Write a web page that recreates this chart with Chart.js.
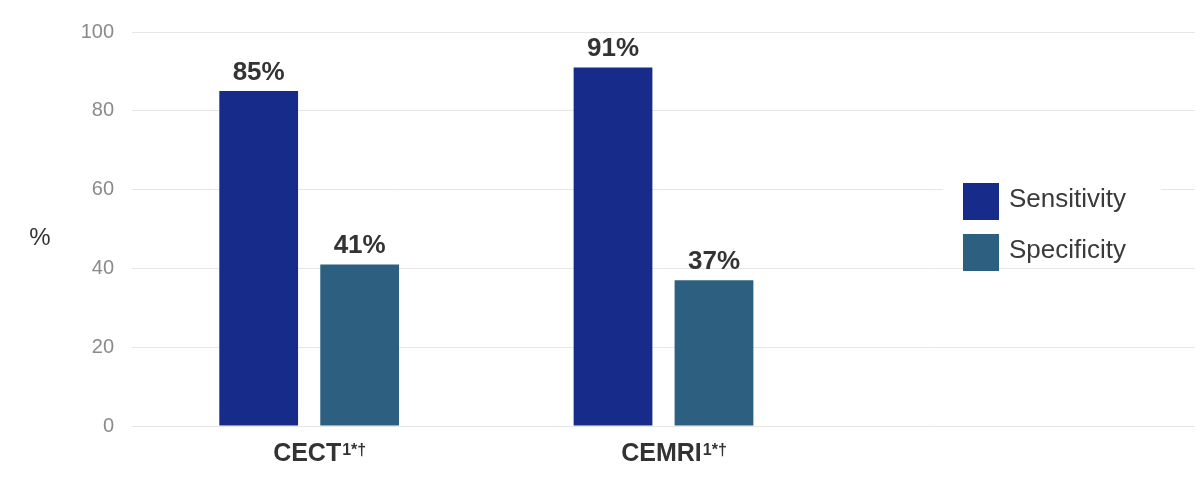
<!DOCTYPE html>
<html>
<head>
<meta charset="utf-8">
<script src="https://cdn.jsdelivr.net/npm/chart.js@4"></script>
<style>
    html, body { margin: 0; padding: 0; background: #ffffff; }
    #wrap { width: 1200px; height: 483px; }
</style>
</head>
<body>
<div id="wrap"><canvas id="chart"></canvas></div>
<script>
// categories (third slot is empty, the legend sits there)
const categories = ['CECT', 'CEMRI', ''];
const categorySup = ['1*\u2020', '1*\u2020', ''];
const sensitivity = [85, 91, null];
const specificity = [41, 37, null];
const yTicks = [0, 20, 40, 60, 80, 100];

const FONT = '"Liberation Sans", Arial, Helvetica, sans-serif';
const TEXT_DARK = '#333333';

// value labels above the bars
const valueLabels = {
    id: 'valueLabels',
    afterDatasetsDraw(chart) {
        const ctx = chart.ctx;
        ctx.save();
        ctx.font = 'bold 26px ' + FONT;
        ctx.fillStyle = TEXT_DARK;
        ctx.textAlign = 'center';
        ctx.textBaseline = 'alphabetic';
        chart.data.datasets.forEach((ds, i) => {
            chart.getDatasetMeta(i).data.forEach((bar, j) => {
                if (ds.data[j] == null) return;
                ctx.fillText(ds.data[j] + '%', bar.x, bar.y - 11);
            });
        });
        ctx.restore();
    }
};

// x labels with superscripts, unrotated "%" title, legend inside the plot
const extras = {
    id: 'extras',
    afterDraw(chart) {
        const ctx = chart.ctx;
        const xScale = chart.scales.x;
        ctx.save();

        // category labels
        categories.forEach((cat, i) => {
            if (!cat) return;
            const x = xScale.getPixelForTick(i);
            ctx.font = 'bold 25px ' + FONT;
            const wMain = ctx.measureText(cat).width;
            ctx.font = 'bold 16px ' + FONT;
            const wSup = ctx.measureText(categorySup[i]).width;
            const start = x + 10 - (wMain + wSup) / 2;
            ctx.fillStyle = TEXT_DARK;
            ctx.textAlign = 'left';
            ctx.textBaseline = 'alphabetic';
            ctx.font = 'bold 25px ' + FONT;
            ctx.fillText(cat, start, 461);
            ctx.font = 'bold 16px ' + FONT;
            ctx.fillText(categorySup[i], start + wMain + 1, 455);
        });

        // axis title
        ctx.font = '24px ' + FONT;
        ctx.fillStyle = TEXT_DARK;
        ctx.textAlign = 'center';
        ctx.textBaseline = 'middle';
        ctx.fillText('%', 40, 238);

        // legend
        ctx.fillStyle = '#ffffff';
        ctx.fillRect(943, 172, 218, 56);
        chart.data.datasets.forEach((ds, i) => {
            const top = 183 + i * 51;
            ctx.fillStyle = ds.backgroundColor;
            ctx.fillRect(963, top, 36, 37);
            ctx.fillStyle = '#3a3a3a';
            ctx.font = '26px ' + FONT;
            ctx.textAlign = 'left';
            ctx.textBaseline = 'middle';
            ctx.fillText(ds.label, 1009, top + 17);
        });

        ctx.restore();
    }
};

new Chart(document.getElementById('chart'), {
    type: 'bar',
    data: {
        labels: categories,
        datasets: [
            { label: 'Sensitivity', data: sensitivity, backgroundColor: '#172b8a' },
            { label: 'Specificity', data: specificity, backgroundColor: '#2c5f80' }
        ]
    },
    options: {
        responsive: true,
        maintainAspectRatio: false,
        animation: false,
        devicePixelRatio: 1,
        layout: { padding: { top: 32, right: 5, left: 0, bottom: 0 } },
        categoryPercentage: 0.57,
        barPercentage: 0.78,
        plugins: {
            legend: { display: false },
            tooltip: { enabled: false }
        },
        scales: {
            x: {
                grid: { display: false },
                border: { display: false },
                ticks: { display: false },
                afterFit(scale) { scale.height = 57; }
            },
            y: {
                min: 0,
                max: 100,
                afterBuildTicks(scale) { scale.ticks = yTicks.map(v => ({ value: v })); },
                grid: { color: '#e6e6e6', lineWidth: 1, drawTicks: false },
                border: { display: false },
                ticks: {
                    color: '#8a8a8a',
                    font: { family: FONT, size: 20 },
                    padding: 18
                },
                afterFit(scale) { scale.width = 132; }
            }
        }
    },
    plugins: [valueLabels, extras]
});
</script>
</body>
</html>
